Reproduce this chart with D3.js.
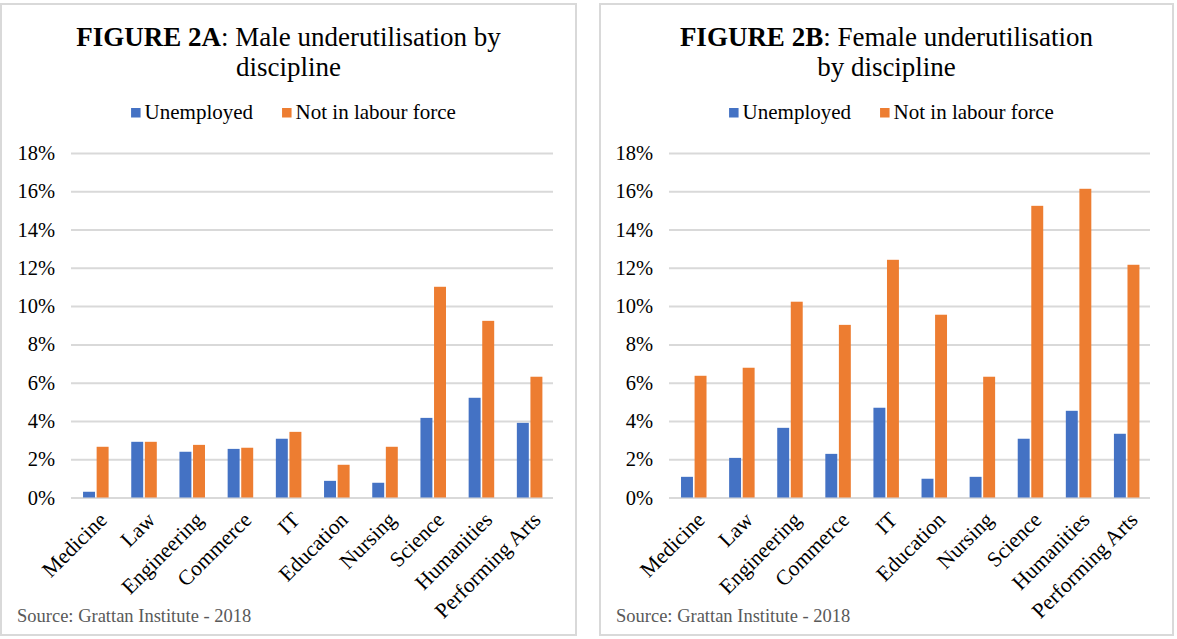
<!DOCTYPE html>
<html>
<head>
<meta charset="utf-8">
<script src="https://cdn.jsdelivr.net/npm/d3@7"></script>
<style>
  html, body { margin: 0; padding: 0; background: #ffffff; }
  svg { display: block; }
  text { font-family: "Liberation Serif", "Times New Roman", serif; }
</style>
</head>
<body>
<svg id="chart" width="1177" height="639"></svg>
<script>
// ---- Data ----
const categories = ["Medicine", "Law", "Engineering", "Commerce", "IT", "Education", "Nursing", "Science", "Humanities", "Performing Arts"];
const seriesNames = ["Unemployed", "Not in labour force"];
const maleUnemployed   = [0.30, 2.91, 2.39, 2.54, 3.07, 0.87, 0.77, 4.16, 5.21, 3.90];
const maleNotInLF      = [2.65, 2.91, 2.75, 2.60, 3.43, 1.71, 2.65, 11.01, 9.23, 6.31];
const femaleUnemployed = [1.08, 2.07, 3.64, 2.28, 4.69, 0.98, 1.08, 3.07, 4.53, 3.33];
const femaleNotInLF    = [6.36, 6.78, 10.23, 9.02, 12.42, 9.55, 6.31, 15.24, 16.13, 12.16];
const yTicks = [0, 2, 4, 6, 8, 10, 12, 14, 16, 18];
const sourceText = "Source: Grattan Institute - 2018";

const colors = ["#4472C4", "#ED7D31"];
const svg = d3.select("#chart");

const panels = [
  { x: 1, w: 575, plotX0: 71, plotX1: 553,
    titleBold: ["FIGURE 2A", ""], titleRest: [": Male underutilisation by", "discipline"],
    series: [maleUnemployed, maleNotInLF] },
  { x: 600, w: 573, plotX0: 669, plotX1: 1150,
    titleBold: ["FIGURE 2B", ""], titleRest: [": Female underutilisation", "by discipline"],
    series: [femaleUnemployed, femaleNotInLF] }
];

const plotTop = 153, plotBottom = 497.5;

panels.forEach(p => {
  const g = svg.append("g");
  // border
  g.append("rect")
    .attr("x", p.x).attr("y", 4).attr("width", p.w).attr("height", 631)
    .attr("fill", "#fff").attr("stroke", "#d9d9d9").attr("stroke-width", 2);

  const cx = p.x + p.w / 2;
  // title
  [0, 1].forEach(i => {
    const t = g.append("text")
      .attr("x", cx).attr("y", 46 + i * 29.5)
      .attr("text-anchor", "middle")
      .attr("font-size", 27).attr("fill", "#000");
    if (p.titleBold[i]) t.append("tspan").attr("font-weight", "bold").text(p.titleBold[i]);
    t.append("tspan").text(p.titleRest[i]);
  });

  const y = d3.scaleLinear().domain([0, 18]).range([plotBottom, plotTop]);
  const x0 = d3.scaleBand().domain(categories).range([p.plotX0, p.plotX1]).paddingInner(0).paddingOuter(0);
  const bw = x0.bandwidth();
  const x1 = d3.scaleBand().domain(seriesNames).range([bw * 0.25, bw * 0.78]).paddingInner(0.12).paddingOuter(0);

  // gridlines + y labels via axis
  const yAxis = d3.axisLeft(y).tickValues(yTicks).tickSize(-(p.plotX1 - p.plotX0)).tickFormat(d => d + "%").tickPadding(16);
  const ga = g.append("g").attr("transform", `translate(${p.plotX0},0)`).call(yAxis);
  ga.select(".domain").remove();
  ga.selectAll(".tick line").attr("stroke", "#d9d9d9").attr("stroke-width", 2);
  ga.selectAll(".tick text").attr("font-size", 20.5).attr("fill", "#000")
    .attr("font-family", "'Liberation Serif', 'Times New Roman', serif");

  // bars
  p.series.forEach((vals, si) => {
    g.append("g").selectAll("rect").data(vals).join("rect")
      .attr("x", (d, i) => x0(categories[i]) + x1(seriesNames[si]))
      .attr("y", d => y(d))
      .attr("width", x1.bandwidth())
      .attr("height", d => y(0) - y(d))
      .attr("fill", colors[si]);
  });

  // x labels
  g.append("g").selectAll("text").data(categories).join("text")
    .attr("transform", d => `translate(${x0(d) + bw * 0.55},${plotBottom + 13}) rotate(-45)`)
    .attr("text-anchor", "end")
    .attr("dy", "0.7em")
    .attr("font-size", 21.5).attr("fill", "#000")
    .text(d => d);

  // legend
  const legendItems = [
    { name: seriesNames[0], color: colors[0] },
    { name: seriesNames[1], color: colors[1] }
  ];
  const lg = g.append("g");
  let lx = 0;
  legendItems.forEach((it, i) => {
    const ig = lg.append("g").attr("transform", `translate(${lx},0)`);
    ig.append("rect").attr("x", 0).attr("y", -11).attr("width", 9.5).attr("height", 9.5).attr("fill", it.color);
    const tt = ig.append("text").attr("x", 13.5).attr("y", 0).attr("font-size", 21).attr("fill", "#000").text(it.name);
    const w = tt.node().getComputedTextLength();
    lx += 13.5 + w + 29;
  });
  const totalW = lx - 29;
  const legCenter = cx + 5;
  lg.attr("transform", `translate(${legCenter - totalW / 2},119)`);

  // source
  g.append("text")
    .attr("x", p.x + 16).attr("y", 622)
    .attr("font-size", 18.5).attr("fill", "#595959")
    .text(sourceText);
});
</script>
</body>
</html>
